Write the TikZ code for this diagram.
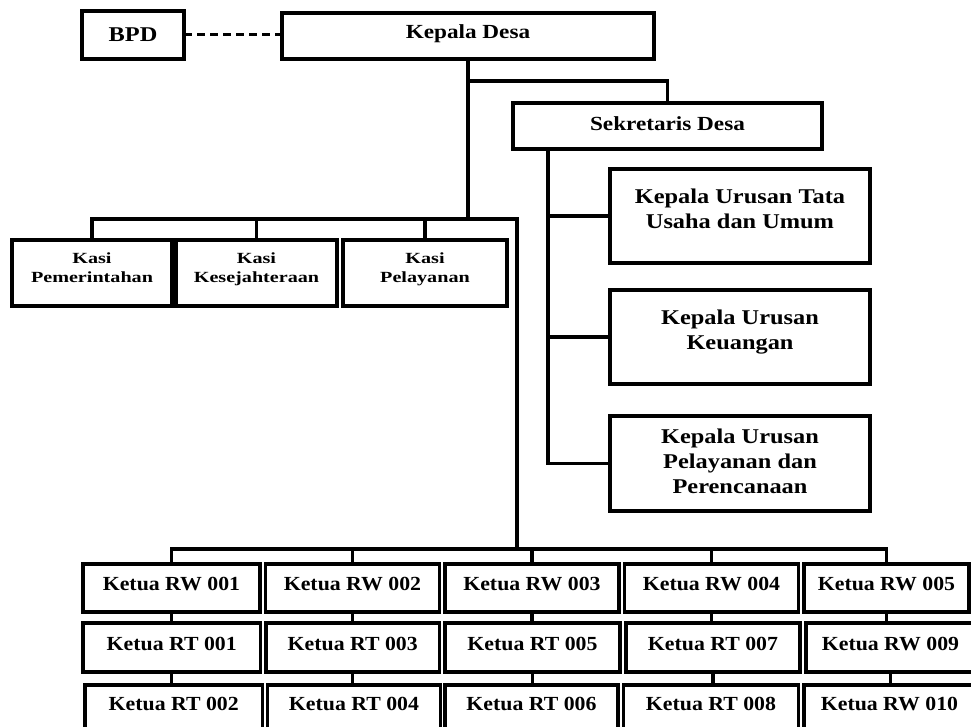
\documentclass[tikz,border=0pt]{standalone}
\usepackage{fontspec}
\setmainfont{Liberation Serif}
% widened bold serif faces for the three kinds of box
\newfontfamily\headfont[FakeStretch=1.16]{Liberation Serif}
\newfontfamily\kasifont[FakeStretch=1.3]{Liberation Serif}
\newfontfamily\rwfont[FakeStretch=1.09]{Liberation Serif}

\tikzset{
  orgline/.style={line width=3.1pt},
  box/.style={draw, line width=3.1pt, inner sep=0pt, outer sep=0pt,
              align=center, anchor=north},
  headtext/.style={font=\headfont\bfseries\fontsize{20}{25}\selectfont},
  kaurtext/.style={font=\headfont\bfseries\fontsize{21}{25}\selectfont},
  kasitext/.style={font=\kasifont\bfseries\fontsize{15.5}{20}\selectfont},
  rwtext/.style={font=\rwfont\bfseries\fontsize{20}{24}\selectfont},
  rwbox/.style={box, rwtext, text height=26pt, text depth=22pt},
  rtabox/.style={box, rwtext, text height=27pt, text depth=22pt},
  rtbbox/.style={box, rwtext, text height=25pt, text depth=30pt},
  kasibox/.style={box, kasitext, text height=43pt, text depth=23pt},
  link/.style={line width=3pt, dash pattern=on 8pt off 5pt}
}

\begin{document}
\begin{tikzpicture}[x=1pt,y=-1pt]
\useasboundingbox (0,0) rectangle (971,727);
\clip (0,0) rectangle (971,727);

% --- top level ---
\node[box, headtext, font=\headfont\bfseries\fontsize{21}{25}\selectfont,
      minimum width=102, text height=31pt, text depth=17pt] (bpd) at (133,11) {BPD};
\node[box, headtext, minimum width=372, text height=26pt, text depth=20pt] (kades) at (468,13) {Kepala Desa};
\node[box, headtext, minimum width=309, text height=28pt, text depth=18pt] (sek) at (667.5,103) {Sekretaris Desa};

% --- kepala urusan (text height counts to the last baseline) ---
\node[box, kaurtext, minimum width=260, text height=60pt, text depth=34pt] (kaur1) at (740,169) {Kepala Urusan Tata\\Usaha dan Umum};
\node[box, kaurtext, minimum width=260, text height=59pt, text depth=35pt] (kaur2) at (740,290) {Kepala Urusan\\Keuangan};
\node[box, kaurtext, minimum width=260, text height=77pt, text depth=18pt] (kaur3) at (740,416) {Kepala Urusan\\Pelayanan dan\\Perencanaan};

% --- kasi ---
\node[kasibox, minimum width=160] (kasi1) at (92,240) {Kasi\\Pemerintahan};
\node[kasibox, minimum width=161] (kasi2) at (256.5,240) {Kasi\\Kesejahteraan};
\node[kasibox, minimum width=164] (kasi3) at (425,240) {Kasi\\Pelayanan};

% --- RW row ---
\node[rwbox, minimum width=177] (rw1) at (171.5,564) {Ketua RW 001};
\node[rwbox, minimum width=174] (rw2) at (352.5,564) {Ketua RW 002};
\node[rwbox, minimum width=174] (rw3) at (532,564) {Ketua RW 003};
\node[rwbox, minimum width=174] (rw4) at (711.5,564) {Ketua RW 004};
\node[rwbox, minimum width=165] (rw5) at (886.5,564) {Ketua RW 005};

% --- first RT row ---
\node[rtabox, minimum width=177.5] (rta1) at (171.75,623) {Ketua RT 001};
\node[rtabox, minimum width=173.5] (rta2) at (352.75,623) {Ketua RT 003};
\node[rtabox, minimum width=175] (rta3) at (532.5,623) {Ketua RT 005};
\node[rtabox, minimum width=174] (rta4) at (713,623) {Ketua RT 007};
\node[rtabox, minimum width=169] (rta5) at (890.5,623) {Ketua RW 009};

% --- second RT row ---
\node[rtbbox, minimum width=177.5] (rtb1) at (173.75,685) {Ketua RT 002};
\node[rtbbox, minimum width=173] (rtb2) at (354,685) {Ketua RT 004};
\node[rtbbox, minimum width=173] (rtb3) at (531.5,685) {Ketua RT 006};
\node[rtbbox, minimum width=175] (rtb4) at (711,685) {Ketua RT 008};
\node[rtbbox, minimum width=171] (rtb5) at (889.5,685) {Ketua RW 010};

% --- bus levels ---
\coordinate (sekbus) at (0,81);
\coordinate (kasibus) at (0,219);
\coordinate (drop) at (517,219);
\coordinate (dropend) at (517,549);
\coordinate (sv) at (548,0);

% BPD liaison
\draw[link] (bpd.east) -- (bpd.east -| kades.west);

% trunk and secretary branch
\draw[orgline] (kades.south) -- (kades.south |- kasibus);
\draw[orgline] (kades.south |- sekbus) -| (sek.north);

% secretary to kepala urusan
\draw[orgline] (sv |- sek.south) |- (kaur3.west);
\draw[orgline] (sv |- kaur1.west) -- (kaur1.west);
\draw[orgline] (sv |- kaur2.west) -- (kaur2.west);

% kasi bus and the line down to the RW level
\draw[orgline] (kasi1.north) |- (drop) -- (dropend);
\draw[orgline] (kasi2.north) -- (kasi2.north |- drop);
\draw[orgline] (kasi3.north) -- (kasi3.north |- drop);

% RW bus
\draw[orgline] (rw1.north) |- (rw5.north |- dropend) -- (rw5.north);
\draw[orgline] (rw2.north) -- (rw2.north |- dropend);
\draw[orgline] (rw3.north) -- (rw3.north |- dropend);
\draw[orgline] (rw4.north) -- (rw4.north |- dropend);

% RW to RT links
\foreach \k in {1,...,5}{
  \draw[orgline] (rw\k.south) -- (rw\k.south |- rta\k.north);
  \draw[orgline] (rta\k.south) -- (rta\k.south |- rtb\k.north);
}
\end{tikzpicture}
\end{document}
